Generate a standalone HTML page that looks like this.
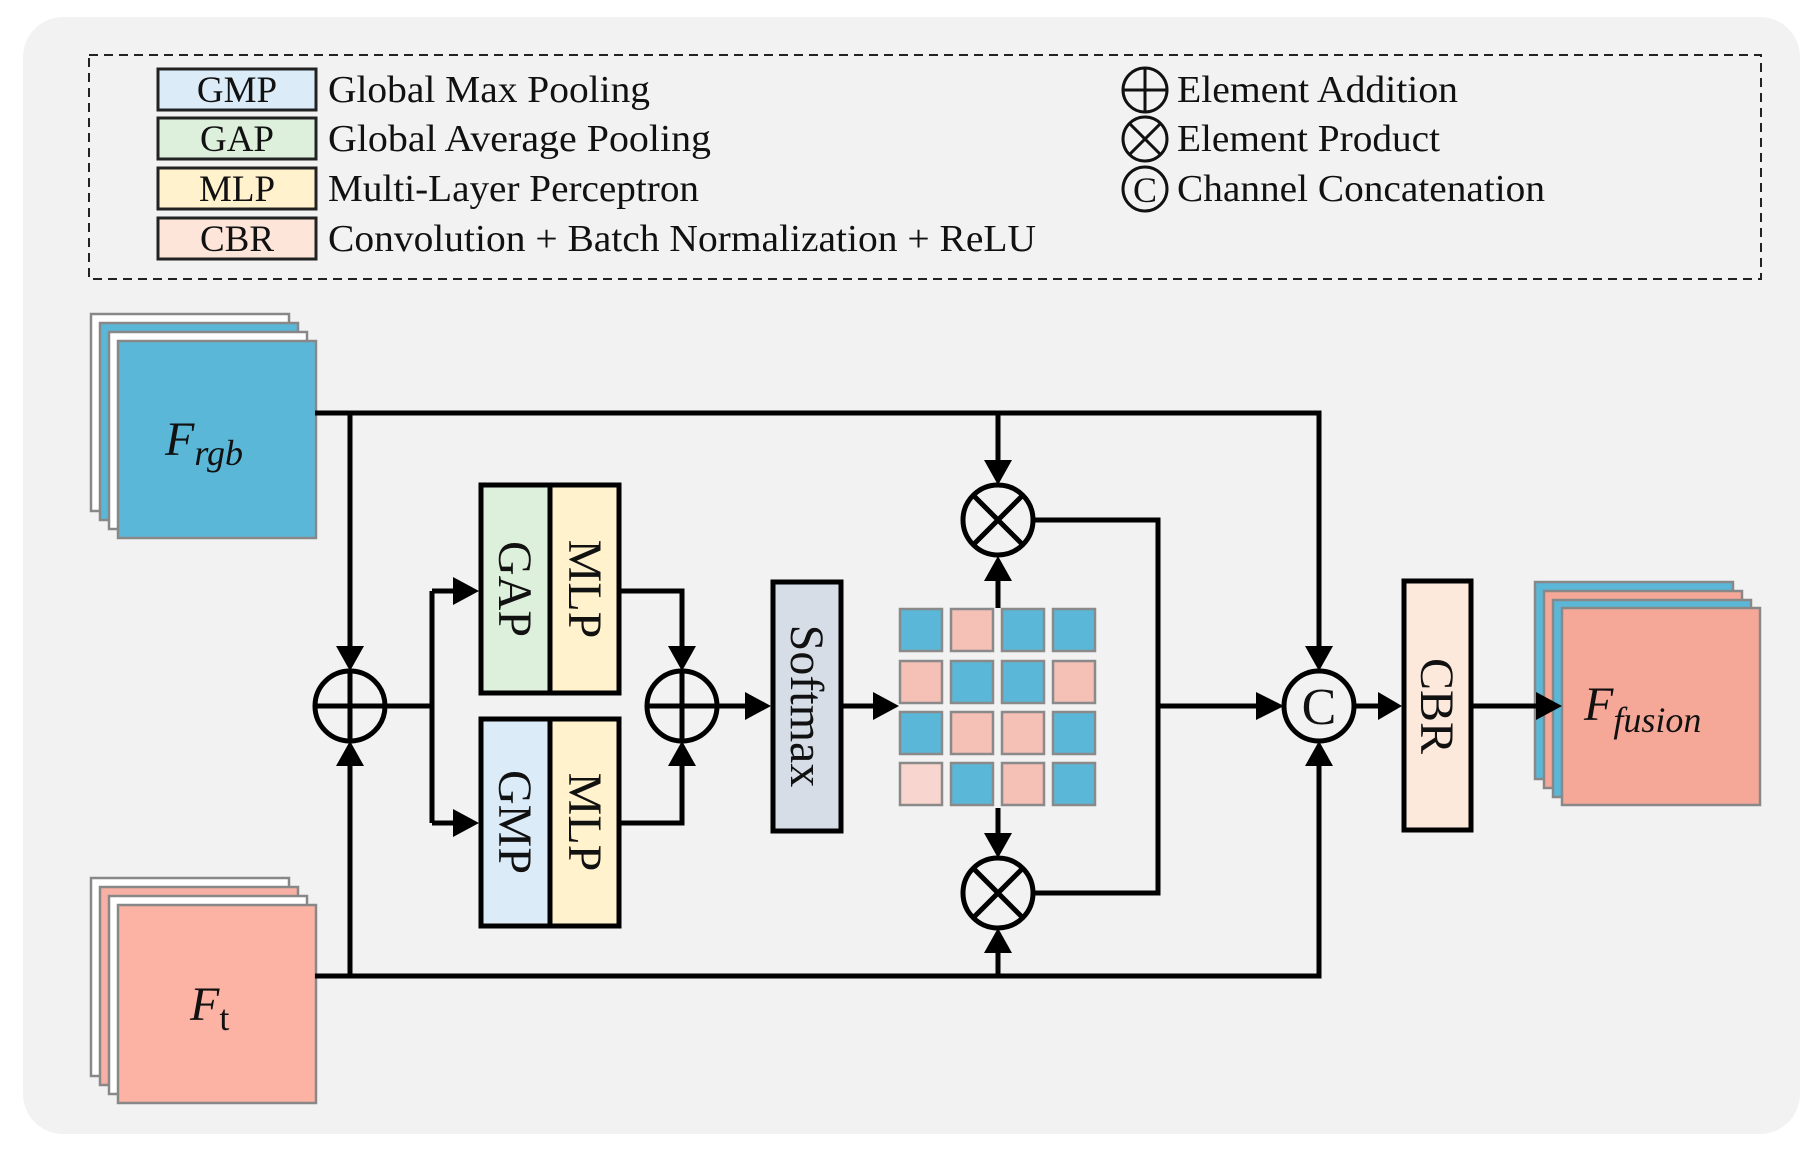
<!DOCTYPE html>
<html><head><meta charset="utf-8"><style>
html,body{margin:0;padding:0;background:#fff;width:1818px;height:1155px;overflow:hidden}
svg{display:block}
text{font-family:"Liberation Serif",serif;fill:#111}
</style></head><body>
<svg width="1818" height="1155" viewBox="0 0 1818 1155" xmlns="http://www.w3.org/2000/svg">
<rect x="23" y="17" width="1777" height="1117" rx="40" fill="#f2f2f2"/>
<!-- legend -->
<rect x="89" y="55" width="1672" height="224" fill="none" stroke="#222" stroke-width="2" stroke-dasharray="9,6"/>
<g stroke="#222" stroke-width="3">
<rect x="158" y="69" width="158" height="41" fill="#dbecf8"/>
<rect x="158" y="118" width="158" height="41" fill="#ddf0dc"/>
<rect x="158" y="168" width="158" height="41" fill="#fff2cc"/>
<rect x="158" y="218" width="158" height="41" fill="#fde5d9"/>
</g>
<g font-size="37" text-anchor="middle">
<text x="237" y="102">GMP</text>
<text x="237" y="151">GAP</text>
<text x="237" y="201">MLP</text>
<text x="237" y="251">CBR</text>
</g>
<g font-size="38" fill="#222">
<text x="328" y="102" textLength="322" lengthAdjust="spacingAndGlyphs">Global Max Pooling</text>
<text x="328" y="151" textLength="383" lengthAdjust="spacingAndGlyphs">Global Average Pooling</text>
<text x="328" y="201" textLength="371" lengthAdjust="spacingAndGlyphs">Multi-Layer Perceptron</text>
<text x="328" y="251" textLength="708" lengthAdjust="spacingAndGlyphs">Convolution + Batch Normalization + ReLU</text>
<text x="1177" y="102" textLength="281" lengthAdjust="spacingAndGlyphs">Element Addition</text>
<text x="1177" y="151" textLength="263" lengthAdjust="spacingAndGlyphs">Element Product</text>
<text x="1177" y="201" textLength="368" lengthAdjust="spacingAndGlyphs">Channel Concatenation</text>
</g>
<g stroke="#111" stroke-width="3" fill="none">
<circle cx="1145" cy="90" r="22"/><path d="M1123 90H1167M1145 68V112"/>
<circle cx="1145" cy="139" r="22"/><path d="M1129 123L1161 155M1161 123L1129 155"/>
<circle cx="1145" cy="189" r="22"/>
</g>
<text x="1145" y="202" font-size="36" text-anchor="middle">C</text>

<!-- F_rgb cube -->
<g stroke="#888" stroke-width="2.5">
<rect x="91" y="314" width="198" height="197" fill="#fff"/>
<rect x="100" y="323" width="198" height="197" fill="#5ab7d8"/>
<rect x="109" y="332" width="198" height="197" fill="#fff"/>
<rect x="118" y="341" width="198" height="197" fill="#5ab7d8"/>
</g>
<text x="165" y="455" font-size="48" font-style="italic">F<tspan font-size="36" dy="10">rgb</tspan></text>
<!-- F_t cube -->
<g stroke="#888" stroke-width="2.5">
<rect x="91" y="878" width="198" height="198" fill="#fff"/>
<rect x="100" y="887" width="198" height="198" fill="#f7b0a3"/>
<rect x="109" y="896" width="198" height="198" fill="#fff"/>
<rect x="118" y="905" width="198" height="198" fill="#fdb3a4"/>
</g>
<text x="190" y="1020" font-size="48" font-style="italic">F<tspan font-size="36" font-style="normal" dy="10">t</tspan></text>
<!-- fusion cube -->
<g stroke="#888" stroke-width="2.5">
<rect x="1535" y="582" width="198" height="197" fill="#5ab7d8"/>
<rect x="1544" y="591" width="198" height="197" fill="#f6a898"/>
<rect x="1553" y="600" width="198" height="197" fill="#5ab7d8"/>
<rect x="1562" y="608" width="198" height="197" fill="#f6a898"/>
</g>
<text x="1584" y="720" font-size="48" font-style="italic">F<tspan font-size="36" dy="12">fusion</tspan></text>

<!-- lines -->
<g stroke="#000" stroke-width="5" fill="none">
<path d="M315 413H1319V650"/>
<path d="M315 976H1319V762"/>
<path d="M350 413V650M350 976V762"/>
<path d="M385 706H432M432 591V823M432 591H455M432 823H455"/>
<path d="M621 591H682V650M621 823H682V762"/>
<path d="M717 706H749"/>
<path d="M843 706H876"/>
<path d="M998 413V460M998 976V953M998 608V580M998 808V834"/>
<path d="M1034 520H1158V893H1034M1158 706H1260"/>
<path d="M1355 706H1382M1473 706H1540"/>
</g>
<g fill="#000">
<path d="M336 646L364 646L350 671Z"/>
<path d="M336 766L364 766L350 741Z"/>
<path d="M668 646L696 646L682 671Z"/>
<path d="M668 766L696 766L682 741Z"/>
<path d="M453 577L453 605L479 591Z"/>
<path d="M453 809L453 837L479 823Z"/>
<path d="M745 692L745 720L771 706Z"/>
<path d="M873 692L873 720L899 706Z"/>
<path d="M984 460L1012 460L998 485Z"/>
<path d="M984 953L1012 953L998 928Z"/>
<path d="M984 581L1012 581L998 556Z"/>
<path d="M984 833L1012 833L998 858Z"/>
<path d="M1305 646L1333 646L1319 671Z"/>
<path d="M1305 766L1333 766L1319 741Z"/>
<path d="M1256 692L1256 720L1284 706Z"/>
<path d="M1378 692L1378 720L1402 706Z"/>
<path d="M1536 692L1536 720L1562 706Z"/>
</g>
<!-- circles -->
<g stroke="#000" stroke-width="5" fill="none">
<circle cx="350" cy="706" r="35"/><path d="M315 706H385M350 671V741"/>
<circle cx="682" cy="706" r="35"/><path d="M647 706H717M682 671V741"/>
<circle cx="998" cy="520" r="35"/><path d="M973 495L1023 545M1023 495L973 545"/>
<circle cx="998" cy="893" r="35"/><path d="M973 868L1023 918M1023 868L973 918"/>
<circle cx="1319" cy="706" r="35"/>
</g>
<text x="1319" y="724" font-size="52" text-anchor="middle">C</text>

<!-- boxes -->
<g stroke="#000" stroke-width="5">
<rect x="481" y="485" width="69" height="208" fill="#ddf0dc"/>
<rect x="550" y="485" width="69" height="208" fill="#fff2cc"/>
<rect x="481" y="719" width="69" height="207" fill="#dbecf8"/>
<rect x="550" y="719" width="69" height="207" fill="#fff2cc"/>
<rect x="773" y="582" width="68" height="249" fill="#d6dde7"/>
<rect x="1404" y="581" width="67" height="249" fill="#fde9dc"/>
</g>
<g font-size="48" text-anchor="middle">
<text transform="translate(515,589) rotate(90)" y="16">GAP</text>
<text transform="translate(585,589) rotate(90)" y="16">MLP</text>
<text transform="translate(515,822) rotate(90)" y="16">GMP</text>
<text transform="translate(585,822) rotate(90)" y="16">MLP</text>
<text transform="translate(807,706) rotate(90)" y="16">Softmax</text>
<text transform="translate(1437,706) rotate(90)" y="16">CBR</text>
</g>
<!-- grid -->
<g stroke="#8a8a8a" stroke-width="2.5">
<rect x="900" y="609" width="42" height="42" fill="#5ab7d8"/>
<rect x="951" y="609" width="42" height="42" fill="#f5c0b6"/>
<rect x="1002" y="609" width="42" height="42" fill="#5ab7d8"/>
<rect x="1053" y="609" width="42" height="42" fill="#5ab7d8"/>
<rect x="900" y="661" width="42" height="42" fill="#f5c0b6"/>
<rect x="951" y="661" width="42" height="42" fill="#5ab7d8"/>
<rect x="1002" y="661" width="42" height="42" fill="#5ab7d8"/>
<rect x="1053" y="661" width="42" height="42" fill="#f5c0b6"/>
<rect x="900" y="712" width="42" height="42" fill="#5ab7d8"/>
<rect x="951" y="712" width="42" height="42" fill="#f5c0b6"/>
<rect x="1002" y="712" width="42" height="42" fill="#f5c0b6"/>
<rect x="1053" y="712" width="42" height="42" fill="#5ab7d8"/>
<rect x="900" y="763" width="42" height="42" fill="#f9d5d0"/>
<rect x="951" y="763" width="42" height="42" fill="#5ab7d8"/>
<rect x="1002" y="763" width="42" height="42" fill="#f5c0b6"/>
<rect x="1053" y="763" width="42" height="42" fill="#5ab7d8"/>
</g>
</svg>
</body></html>
